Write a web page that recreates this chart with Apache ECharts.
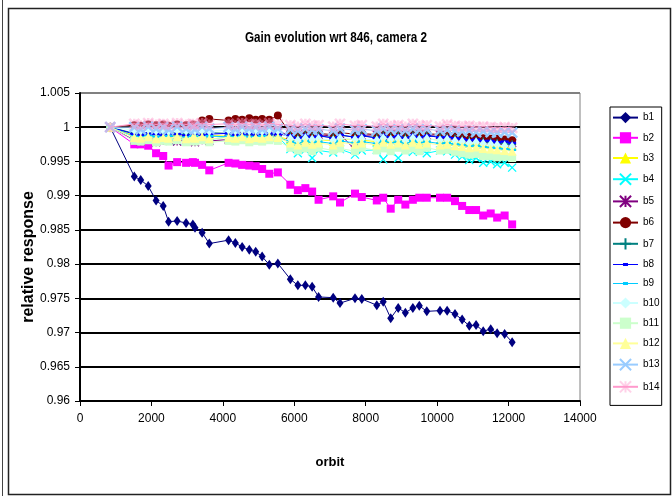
<!DOCTYPE html>
<html>
<head>
<meta charset="utf-8">
<script src="https://cdn.jsdelivr.net/npm/echarts@6/dist/echarts.min.js"></script>
<style>
  html, body { margin: 0; padding: 0; background: #ffffff; }
  #chart { width: 672px; height: 496px; }
</style>
</head>
<body>
<div id="chart"></div>
<script>
// Orbit numbers of each measurement (shared by all channels)
const orbits = [846, 1520, 1700, 1910, 2130, 2330, 2480, 2720, 2970, 3160, 3220, 3420, 3620,
  4160, 4350, 4540, 4740, 4920, 5100, 5300, 5540, 5890, 6100, 6310, 6500, 6680, 7090, 7280,
  7700, 7890, 8310, 8490, 8700, 8910, 9110, 9320, 9500, 9710, 10080, 10280, 10500, 10700,
  10900, 11090, 11290, 11500, 11680, 11890, 12100];

// Relative response per channel, normalised to orbit 846
const b1 = [1, 0.9928, 0.9923, 0.9914, 0.9893, 0.9885, 0.9862, 0.9863, 0.9860, 0.9858, 0.9853,
  0.9846, 0.9830, 0.9835, 0.9831, 0.9825, 0.9821, 0.9818, 0.9811, 0.9799, 0.9801, 0.9778,
  0.9769, 0.9769, 0.9767, 0.9752, 0.9751, 0.9743, 0.9750, 0.9749, 0.9740, 0.9745, 0.9721,
  0.9736, 0.9729, 0.9736, 0.9739, 0.9731, 0.9732, 0.9732, 0.9727, 0.9719, 0.9710, 0.9711,
  0.9702, 0.9705, 0.9699, 0.9698, 0.9686];
const b2 = [1, 0.9975, 0.9975, 0.9973, 0.9962, 0.9958, 0.9944, 0.9949, 0.9948, 0.9949, 0.9948,
  0.9945, 0.9937, 0.9948, 0.9947, 0.9945, 0.9944, 0.9943, 0.9939, 0.9932, 0.9934, 0.9916,
  0.9908, 0.9911, 0.9906, 0.9894, 0.9899, 0.9890, 0.9903, 0.9898, 0.9893, 0.9897, 0.9881,
  0.9894, 0.9887, 0.9894, 0.9897, 0.9897, 0.9897, 0.9897, 0.9892, 0.9885, 0.9879, 0.9879,
  0.9871, 0.9874, 0.9868, 0.9871, 0.9858];
const b3 = [1, 0.9988, 0.9987, 0.9989, 0.9986, 0.9988, 0.9987, 0.9989, 0.9988, 0.9986, 0.9987,
  0.9989, 0.9988, 0.9987, 0.9988, 0.9986, 0.9989, 0.9987, 0.9988, 0.9987, 0.9986, 0.9982,
  0.9980, 0.9983, 0.9981, 0.9982, 0.9980, 0.9983, 0.9982, 0.9981, 0.9979, 0.9982, 0.9983,
  0.9981, 0.9980, 0.9982, 0.9981, 0.9983, 0.9981, 0.9980, 0.9979, 0.9978, 0.9977, 0.9978,
  0.9976, 0.9975, 0.9976, 0.9974, 0.9973];
const b4 = [1, 0.9986, 0.9984, 0.9987, 0.9983, 0.9986, 0.9985, 0.9980, 0.9986, 0.9984, 0.9987,
  0.9985, 0.9982, 0.9986, 0.9984, 0.9987, 0.9983, 0.9986, 0.9985, 0.9984, 0.9986, 0.9968,
  0.9962, 0.9967, 0.9955, 0.9966, 0.9963, 0.9968, 0.9960, 0.9966, 0.9967, 0.9953, 0.9965,
  0.9955, 0.9966, 0.9964, 0.9967, 0.9962, 0.9966, 0.9965, 0.9960, 0.9957, 0.9952, 0.9955,
  0.9948, 0.9950, 0.9946, 0.9948, 0.9941];
const b5 = [1, 0.9981, 0.9979, 0.9982, 0.9978, 0.9980, 0.9981, 0.9979, 0.9982, 0.9980, 0.9978,
  0.9981, 0.9980, 0.9982, 0.9992, 0.9993, 0.9991, 0.9993, 0.9992, 0.9991, 0.9993, 0.9989,
  0.9987, 0.9990, 0.9988, 0.9989, 0.9987, 0.9990, 0.9967, 0.9988, 0.9989, 0.9987, 0.9990,
  0.9988, 0.9989, 0.9987, 0.9990, 0.9988, 0.9989, 0.9987, 0.9986, 0.9985, 0.9983, 0.9984,
  0.9982, 0.9981, 0.9980, 0.9979, 0.9977];
const b6 = [1, 1.0003, 1.0002, 1.0004, 1.0003, 1.0004, 1.0002, 1.0004, 1.0003, 1.0004, 1.0003,
  1.0010, 1.0012, 1.0010, 1.0012, 1.0011, 1.0013, 1.0011, 1.0012, 1.0011, 1.0017, 0.9991,
  0.9989, 0.9992, 0.9990, 0.9991, 0.9989, 0.9992, 0.9990, 0.9991, 0.9989, 0.9992, 0.9990,
  0.9991, 0.9989, 0.9992, 0.9990, 0.9991, 0.9989, 0.9990, 0.9988, 0.9987, 0.9986, 0.9985,
  0.9984, 0.9983, 0.9983, 0.9982, 0.9981];
const b7 = [1, 0.9991, 0.9990, 0.9992, 0.9991, 0.9990, 0.9992, 0.9991, 0.9990, 0.9992, 0.9991,
  0.9990, 0.9992, 0.9991, 0.9989, 0.9991, 0.9990, 0.9992, 0.9991, 0.9990, 0.9991, 0.9987,
  0.9985, 0.9988, 0.9986, 0.9987, 0.9985, 0.9988, 0.9986, 0.9987, 0.9985, 0.9988, 0.9986,
  0.9987, 0.9985, 0.9988, 0.9986, 0.9987, 0.9986, 0.9985, 0.9984, 0.9982, 0.9981, 0.9980,
  0.9979, 0.9978, 0.9977, 0.9976, 0.9975];
const b8 = [1, 0.9990, 0.9989, 0.9991, 0.9990, 0.9989, 0.9991, 0.9990, 0.9988, 0.9990, 0.9991,
  0.9989, 0.9990, 0.9991, 0.9989, 0.9990, 0.9991, 0.9989, 0.9990, 0.9991, 0.9990, 0.9988,
  0.9984, 0.9989, 0.9985, 0.9988, 0.9984, 0.9989, 0.9985, 0.9988, 0.9984, 0.9989, 0.9985,
  0.9988, 0.9984, 0.9989, 0.9985, 0.9988, 0.9985, 0.9986, 0.9984, 0.9983, 0.9981, 0.9982,
  0.9980, 0.9980, 0.9978, 0.9979, 0.9977];
const b9 = [1, 0.9986, 0.9985, 0.9987, 0.9986, 0.9985, 0.9987, 0.9986, 0.9985, 0.9987, 0.9986,
  0.9985, 0.9987, 0.9986, 0.9985, 0.9987, 0.9986, 0.9985, 0.9987, 0.9986, 0.9985, 0.9979,
  0.9976, 0.9980, 0.9977, 0.9979, 0.9976, 0.9980, 0.9977, 0.9979, 0.9976, 0.9980, 0.9977,
  0.9979, 0.9976, 0.9980, 0.9977, 0.9979, 0.9976, 0.9977, 0.9975, 0.9974, 0.9972, 0.9973,
  0.9971, 0.9970, 0.9969, 0.9968, 0.9967];
const b10 = [1, 0.9996, 0.9995, 0.9997, 0.9995, 0.9996, 0.9994, 0.9996, 0.9995, 0.9997, 0.9995,
  0.9996, 0.9994, 0.9996, 0.9995, 0.9997, 0.9995, 0.9996, 0.9994, 0.9996, 0.9995, 0.9983,
  0.9981, 0.9984, 0.9982, 0.9983, 0.9981, 0.9984, 0.9982, 0.9983, 0.9981, 0.9984, 0.9982,
  0.9983, 0.9981, 0.9984, 0.9982, 0.9983, 0.9981, 0.9982, 0.9980, 0.9979, 0.9977, 0.9978,
  0.9976, 0.9975, 0.9974, 0.9973, 0.9972];
const b11 = [1, 0.9980, 0.9979, 0.9981, 0.9978, 0.9980, 0.9979, 0.9981, 0.9978, 0.9980, 0.9979,
  0.9981, 0.9978, 0.9980, 0.9979, 0.9981, 0.9978, 0.9980, 0.9979, 0.9981, 0.9980, 0.9970,
  0.9966, 0.9969, 0.9965, 0.9970, 0.9966, 0.9969, 0.9965, 0.9970, 0.9966, 0.9969, 0.9965,
  0.9970, 0.9966, 0.9969, 0.9965, 0.9970, 0.9966, 0.9967, 0.9964, 0.9962, 0.9960, 0.9961,
  0.9958, 0.9958, 0.9956, 0.9957, 0.9955];
const b12 = [1, 0.9985, 0.9984, 0.9986, 0.9983, 0.9985, 0.9984, 0.9986, 0.9983, 0.9985, 0.9984,
  0.9986, 0.9983, 0.9985, 0.9984, 0.9986, 0.9983, 0.9985, 0.9984, 0.9986, 0.9985, 0.9977,
  0.9974, 0.9978, 0.9975, 0.9977, 0.9974, 0.9978, 0.9975, 0.9977, 0.9974, 0.9978, 0.9975,
  0.9977, 0.9974, 0.9978, 0.9975, 0.9977, 0.9974, 0.9975, 0.9973, 0.9972, 0.9970, 0.9971,
  0.9969, 0.9968, 0.9967, 0.9966, 0.9965];
const b13 = [1, 1.0000, 0.9997, 1.0001, 0.9998, 1.0000, 0.9997, 1.0001, 0.9998, 1.0000, 0.9997,
  1.0001, 0.9998, 1.0000, 0.9997, 1.0001, 0.9998, 1.0000, 0.9997, 1.0001, 0.9998, 0.9997,
  0.9995, 0.9998, 0.9996, 0.9997, 0.9995, 0.9998, 0.9996, 0.9997, 0.9995, 0.9998, 0.9996,
  0.9997, 0.9995, 0.9998, 0.9996, 0.9997, 0.9995, 0.9996, 0.9995, 0.9994, 0.9995, 0.9993,
  0.9994, 0.9993, 0.9992, 0.9993, 0.9992];
const b14 = [1, 1.0005, 1.0003, 1.0006, 1.0004, 1.0005, 1.0003, 1.0006, 1.0004, 1.0005, 1.0003,
  1.0006, 1.0004, 1.0005, 1.0003, 1.0006, 1.0004, 1.0005, 1.0003, 1.0006, 1.0004, 1.0003,
  1.0001, 1.0005, 1.0002, 1.0003, 1.0001, 1.0005, 1.0002, 1.0003, 1.0001, 1.0005, 1.0002,
  1.0003, 1.0001, 1.0005, 1.0002, 1.0003, 1.0001, 1.0004, 1.0002, 1.0001, 1.0002, 1.0000,
  1.0001, 1.0000, 0.9999, 1.0000, 0.9999];

const channelNames = ['b1', 'b2', 'b3', 'b4', 'b5', 'b6', 'b7', 'b8', 'b9', 'b10', 'b11', 'b12', 'b13', 'b14'];
const channelValues = [b1, b2, b3, b4, b5, b6, b7, b8, b9, b10, b11, b12, b13, b14];

// Axis ranges and tick steps
const yTicks = { min: 0.96, max: 1.005, step: 0.005 };
const xTicks = { min: 0, max: 14000, step: 2000 };

// Marker shapes
const X_MARK = 'path://M0,0L10,10M10,0L0,10';
const STAR_MARK = 'path://M0,0L10,10M10,0L0,10M5,0L5,10';
const PLUS_MARK = 'path://M5,0L5,10M0,5L10,5';
const DASH_MARK = 'path://M0,0L10,0L10,3L0,3Z';
// legend key for the dash-marker channels: line with a small dash on it
const DASH_KEY = 'path://M0,6.5L25,6.5L25,7.5L0,7.5Z M10,5.5L15,5.5L15,8.5L10,8.5Z';

const styles = [
  { color: '#000080', symbol: 'diamond', size: [7, 10] },
  { color: '#FF00FF', symbol: 'rect', size: 8 },
  { color: '#FFFF00', symbol: 'triangle', size: 9 },
  { color: '#00FFFF', symbol: X_MARK, size: 8, stroke: true },
  { color: '#800080', symbol: STAR_MARK, size: 8, stroke: true },
  { color: '#800000', symbol: 'circle', size: 8 },
  { color: '#008080', symbol: PLUS_MARK, size: 8, stroke: true },
  { color: '#0000FF', symbol: DASH_MARK, size: 8, key: DASH_KEY },
  { color: '#00CCFF', symbol: DASH_MARK, size: 8, key: DASH_KEY },
  { color: '#CCFFFF', symbol: 'diamond', size: [7, 10] },
  { color: '#CCFFCC', symbol: 'rect', size: 8 },
  { color: '#FFFF99', symbol: 'triangle', size: 9 },
  { color: '#99CCFF', symbol: X_MARK, size: 10, stroke: true, width: 2.5 },
  { color: '#FF99CC', symbol: STAR_MARK, size: 10, stroke: true, width: 2.5, opacity: 0.45 }
];

const FONT = '"Liberation Sans", Arial, sans-serif';

const series = channelNames.map((name, k) => {
  const st = styles[k];
  return {
    name: name,
    type: 'line',
    data: orbits.map((o, i) => [o, channelValues[k][i]]),
    symbol: st.symbol,
    symbolSize: st.size,
    symbolKeepAspect: true,
    showSymbol: true,
    lineStyle: { color: st.color, width: 1 },
    itemStyle: st.stroke
      ? { color: st.color, borderColor: st.color, borderWidth: st.width || 1.3, opacity: st.opacity || 1 }
      : { color: st.color, borderWidth: 0 },
    emphasis: { disabled: true },
    z: 2 + k
  };
});

const legendData = channelNames.map((name, k) =>
  styles[k].key ? { name: name, icon: styles[k].key, itemStyle: { color: styles[k].color } } : { name: name });

const gridColors = [];
for (let v = yTicks.min; v < yTicks.max - 1e-9; v += yTicks.step) gridColors.push('#000000');
gridColors.push('#808080');

const chart = echarts.init(document.getElementById('chart'), null, { renderer: 'canvas' });
chart.setOption({
  animation: false,
  backgroundColor: '#ffffff',
  grid: {
    left: 80, top: 93, width: 500, height: 308,
    show: true, borderColor: '#808080', borderWidth: 1, backgroundColor: '#ffffff'
  },
  legend: {
    orient: 'vertical',
    left: 610, top: 107,
    padding: [5, 2, 12, 2],
    itemWidth: 25, itemHeight: 14, itemGap: 9,
    borderColor: '#000', borderWidth: 1, backgroundColor: '#fff',
    textStyle: { fontFamily: FONT, fontSize: 10, color: '#000' },
    data: legendData
  },
  xAxis: {
    type: 'value',
    min: xTicks.min, max: xTicks.max, interval: xTicks.step,
    name: 'orbit', nameLocation: 'middle', nameGap: 55, nameMoveOverlap: false,
    nameTextStyle: { fontFamily: FONT, fontSize: 13, fontWeight: 'bold', color: '#000' },
    axisLine: { show: true, onZero: false, lineStyle: { color: '#000', width: 2 } },
    axisTick: { show: true, inside: false, length: 5, lineStyle: { color: '#000', width: 1 } },
    axisLabel: { fontFamily: FONT, fontSize: 12, color: '#000', margin: 12, formatter: v => String(v) },
    splitLine: { show: false }
  },
  yAxis: {
    type: 'value',
    min: yTicks.min, max: yTicks.max, interval: yTicks.step,
    name: 'relative response', nameLocation: 'middle', nameGap: 43, nameMoveOverlap: false,
    nameTextStyle: { fontFamily: FONT, fontSize: 16, fontWeight: 'bold', color: '#000', padding: [0, 20, 0, 0] },
    axisLine: { show: true, lineStyle: { color: '#000', width: 2 } },
    axisTick: { show: true, inside: false, length: 5, lineStyle: { color: '#000', width: 1 } },
    axisLabel: { fontFamily: FONT, fontSize: 12, color: '#000', margin: 10 },
    splitLine: { show: true, lineStyle: { color: gridColors, width: 2 } }
  },
  graphic: [
    {
      type: 'rect', left: 6, top: 6, z: -10,
      shape: { width: 662, height: 486 },
      style: { fill: 'none', stroke: '#222', lineWidth: 1.5 }
    },
    {
      type: 'line', z: -10,
      shape: { x1: 2.5, y1: 0, x2: 2.5, y2: 496 },
      style: { stroke: '#444', lineWidth: 1 }
    },
    {
      // chart title, set in a condensed face
      type: 'text', x: 336, y: 38, scaleX: 0.78, z: 10,
      style: {
        text: 'Gain evolution wrt 846, camera 2',
        font: 'bold 15px "Liberation Sans", Arial, sans-serif',
        fill: '#000', textAlign: 'center', textVerticalAlign: 'middle'
      }
    }
  ],
  series: series
});
</script>
</body>
</html>
